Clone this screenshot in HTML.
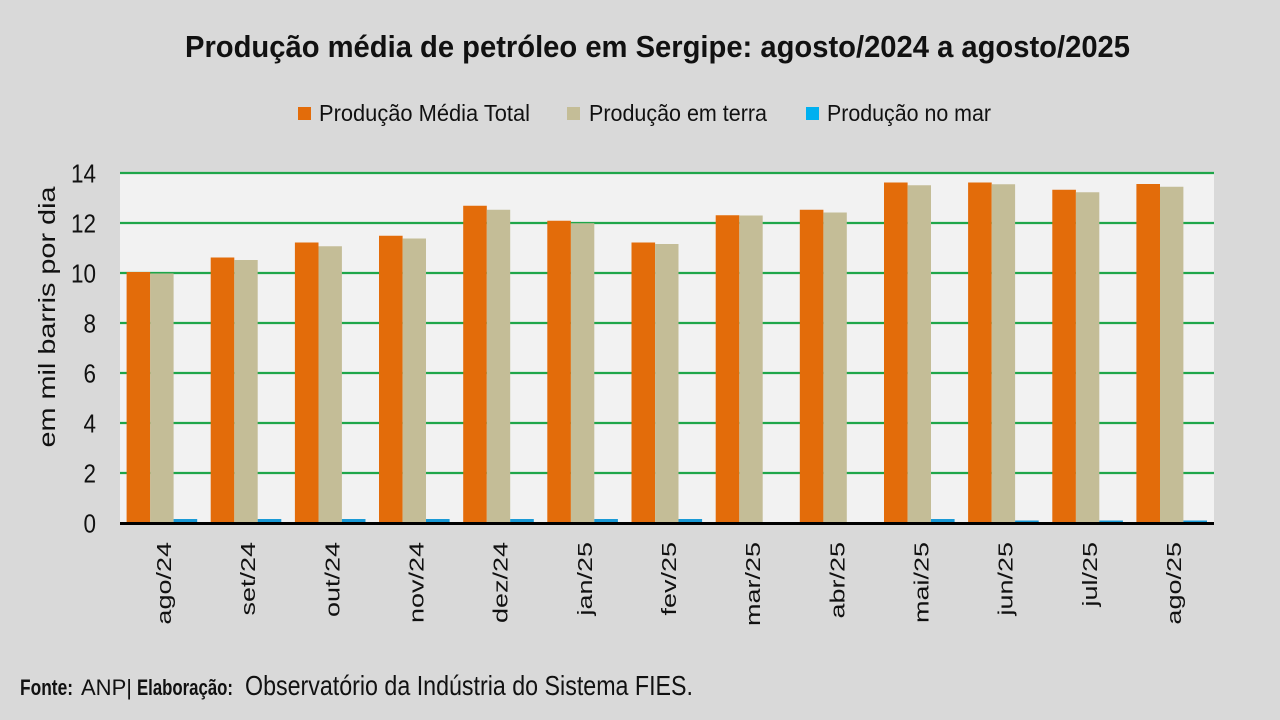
<!DOCTYPE html>
<html>
<head>
<meta charset="utf-8">
<style>
  html,body{margin:0;padding:0;background:#d9d9d9;}
  svg{display:block;}
  text{font-family:"Liberation Sans",sans-serif;}
</style>
</head>
<body>
<svg width="1280" height="720" viewBox="0 0 1280 720" xmlns="http://www.w3.org/2000/svg">
  <rect x="0" y="0" width="1280" height="720" fill="#d9d9d9"/>
  <!-- Title -->
  <text x="185" y="57" font-size="31" font-weight="bold" fill="#111" textLength="945" lengthAdjust="spacingAndGlyphs">Produção média de petróleo em Sergipe: agosto/2024 a agosto/2025</text>

  <!-- Legend -->
  <rect x="298" y="107" width="13" height="13" fill="#e36c0a"/>
  <text x="319" y="121" font-size="23" fill="#111" textLength="211" lengthAdjust="spacingAndGlyphs">Produção Média Total</text>
  <rect x="567" y="107" width="13" height="13" fill="#c4bd97"/>
  <text x="589" y="121" font-size="23" fill="#111" textLength="178" lengthAdjust="spacingAndGlyphs">Produção em terra</text>
  <rect x="806" y="107" width="13" height="13" fill="#00b0f0"/>
  <text x="827" y="121" font-size="23" fill="#111" textLength="164" lengthAdjust="spacingAndGlyphs">Produção no mar</text>

  <!-- Plot area -->
  <rect x="120" y="173" width="1094" height="350" fill="#f2f2f2"/>
  <g stroke="#1fa64a" stroke-width="2.2">
    <line x1="120" y1="173" x2="1214" y2="173"/>
    <line x1="120" y1="223" x2="1214" y2="223"/>
    <line x1="120" y1="273" x2="1214" y2="273"/>
    <line x1="120" y1="323" x2="1214" y2="323"/>
    <line x1="120" y1="373" x2="1214" y2="373"/>
    <line x1="120" y1="423" x2="1214" y2="423"/>
    <line x1="120" y1="473" x2="1214" y2="473"/>
  </g>

  <!-- Orange bars -->
  <g fill="#e36c0a">
    <rect x="126.6" y="272" width="23.6" height="250"/>
    <rect x="210.7" y="257.5" width="23.6" height="264.5"/>
    <rect x="294.9" y="242.5" width="23.6" height="279.5"/>
    <rect x="379.0" y="235.75" width="23.6" height="286.25"/>
    <rect x="463.2" y="205.75" width="23.6" height="316.25"/>
    <rect x="547.3" y="220.75" width="23.6" height="301.25"/>
    <rect x="631.5" y="242.5" width="23.6" height="279.5"/>
    <rect x="715.7" y="215.25" width="23.6" height="306.75"/>
    <rect x="799.8" y="209.75" width="23.6" height="312.25"/>
    <rect x="884.0" y="182.5" width="23.6" height="339.5"/>
    <rect x="968.1" y="182.5" width="23.6" height="339.5"/>
    <rect x="1052.3" y="189.75" width="23.6" height="332.25"/>
    <rect x="1136.4" y="184" width="23.6" height="338"/>
  </g>
  <!-- Tan bars -->
  <g fill="#c4bd97">
    <rect x="150.2" y="273.5" width="23.4" height="248.5"/>
    <rect x="234.3" y="260" width="23.4" height="262"/>
    <rect x="318.5" y="246.25" width="23.4" height="275.75"/>
    <rect x="402.6" y="238.5" width="23.4" height="283.5"/>
    <rect x="486.8" y="209.75" width="23.4" height="312.25"/>
    <rect x="570.9" y="223.25" width="23.4" height="298.75"/>
    <rect x="655.1" y="244" width="23.4" height="278"/>
    <rect x="739.3" y="215.5" width="23.4" height="306.5"/>
    <rect x="823.4" y="212.5" width="23.4" height="309.5"/>
    <rect x="907.6" y="185.25" width="23.4" height="336.75"/>
    <rect x="991.7" y="184.25" width="23.4" height="337.75"/>
    <rect x="1075.9" y="192.25" width="23.4" height="329.75"/>
    <rect x="1160.0" y="186.75" width="23.4" height="335.25"/>
  </g>
  <!-- Blue bars -->
  <g fill="#1a9ad6">
    <rect x="173.6" y="519" width="23.6" height="3.5"/>
    <rect x="257.7" y="519" width="23.6" height="3.5"/>
    <rect x="341.9" y="519" width="23.6" height="3.5"/>
    <rect x="426.0" y="519" width="23.6" height="3.5"/>
    <rect x="510.2" y="519" width="23.6" height="3.5"/>
    <rect x="594.3" y="519" width="23.6" height="3.5"/>
    <rect x="678.5" y="519" width="23.6" height="3.5"/>
    <rect x="931.0" y="519" width="23.6" height="3.5"/>
    <rect x="1015.1" y="520.5" width="23.6" height="2"/>
    <rect x="1099.3" y="520.5" width="23.6" height="2"/>
    <rect x="1183.4" y="520.5" width="23.6" height="2"/>
  </g>

  <!-- X axis line -->
  <line x1="120" y1="523.5" x2="1214" y2="523.5" stroke="#000" stroke-width="3"/>

  <!-- Y tick labels -->
  <g font-size="26" fill="#111" text-anchor="end">
    <text x="96" y="182.5" textLength="25" lengthAdjust="spacingAndGlyphs">14</text>
    <text x="96" y="232.5" textLength="25" lengthAdjust="spacingAndGlyphs">12</text>
    <text x="96" y="282.5" textLength="25" lengthAdjust="spacingAndGlyphs">10</text>
    <text x="96" y="332.5" textLength="12.5" lengthAdjust="spacingAndGlyphs">8</text>
    <text x="96" y="382.5" textLength="12.5" lengthAdjust="spacingAndGlyphs">6</text>
    <text x="96" y="432.5" textLength="12.5" lengthAdjust="spacingAndGlyphs">4</text>
    <text x="96" y="482.5" textLength="12.5" lengthAdjust="spacingAndGlyphs">2</text>
    <text x="96" y="532.5" textLength="12.5" lengthAdjust="spacingAndGlyphs">0</text>
  </g>

  <!-- Y axis title -->
  <text transform="translate(55,317) rotate(-90)" text-anchor="middle" font-size="23" fill="#111" textLength="261" lengthAdjust="spacingAndGlyphs">em mil barris por dia</text>

  <!-- X labels -->
  <g font-size="20" fill="#111" text-anchor="end">
    <text transform="translate(171.1,542) rotate(-90) scale(1.35,1)">ago/24</text>
    <text transform="translate(255.2,542) rotate(-90) scale(1.35,1)">set/24</text>
    <text transform="translate(339.4,542) rotate(-90) scale(1.35,1)">out/24</text>
    <text transform="translate(423.5,542) rotate(-90) scale(1.35,1)">nov/24</text>
    <text transform="translate(507.7,542) rotate(-90) scale(1.35,1)">dez/24</text>
    <text transform="translate(591.8,542) rotate(-90) scale(1.35,1)">jan/25</text>
    <text transform="translate(676.0,542) rotate(-90) scale(1.35,1)">fev/25</text>
    <text transform="translate(760.2,542) rotate(-90) scale(1.35,1)">mar/25</text>
    <text transform="translate(844.3,542) rotate(-90) scale(1.35,1)">abr/25</text>
    <text transform="translate(928.5,542) rotate(-90) scale(1.35,1)">mai/25</text>
    <text transform="translate(1012.6,542) rotate(-90) scale(1.35,1)">jun/25</text>
    <text transform="translate(1096.8,542) rotate(-90) scale(1.35,1)">jul/25</text>
    <text transform="translate(1180.9,542) rotate(-90) scale(1.35,1)">ago/25</text>
  </g>

  <!-- Footer -->
  <text x="20" y="695" font-size="22" font-weight="bold" fill="#111" textLength="53" lengthAdjust="spacingAndGlyphs">Fonte:</text>
  <text x="81" y="695" font-size="22" fill="#111" textLength="51" lengthAdjust="spacingAndGlyphs">ANP|</text>
  <text x="137" y="695" font-size="22" font-weight="bold" fill="#111" textLength="96" lengthAdjust="spacingAndGlyphs">Elaboração:</text>
  <text x="245" y="695" font-size="28" fill="#111" textLength="448" lengthAdjust="spacingAndGlyphs">Observatório da Indústria do Sistema FIES.</text>
</svg>
</body>
</html>
